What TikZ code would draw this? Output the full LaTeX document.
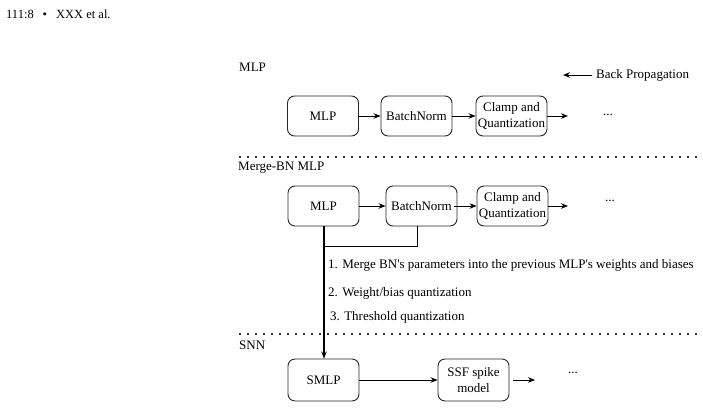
\documentclass[tikz,border=0pt]{standalone}
\usepackage{fontspec}
\setmainfont{Liberation Serif}[Ligatures=TeXOff]
\usetikzlibrary{arrows.meta}
\begin{document}
\begin{tikzpicture}[x=1pt,y=-1pt,
  every node/.style={font=\fontsize{13}{16}\selectfont, inner sep=0pt},
  box/.style={draw=black!85, line width=0.9pt, rounded corners=7pt, minimum width=71pt, align=center},
  rowbox/.style={box, minimum height=40pt},
  lowbox/.style={box, minimum height=42pt},
  conn/.style={line width=0.9pt, -{Stealth[length=7pt,width=5.5pt]}},
  plain/.style={line width=0.9pt},
  sep/.style={line width=1.6pt, dash pattern=on 1.6pt off 6.4pt, black!80},
  lbl/.style={anchor=west}
]
\useasboundingbox (0,0) rectangle (703,407);
% header
\node[lbl, font=\fontsize{12.5}{15}\selectfont] (hdr) at (6,14) {111:8\hspace{9pt}\textbullet\hspace{9pt}XXX et al.};

% section labels
\node[lbl] (lmlp) at (239,67) {MLP};
\node[lbl] (lmerge) at (238,168) {Merge-BN MLP};
\node[lbl] (lsnn) at (239,345) {SNN};

% back propagation legend
\coordinate (bpa) at (592,75);
\coordinate (bpb) at (563,75);
\draw[conn] (bpa) -- (bpb);
\node[lbl] (bp) at (596,75) {Back Propagation};

% row 1
\node[rowbox] (m1) at (323,116) {MLP};
\node[rowbox] (b1) at (416.5,116) {BatchNorm};
\node[rowbox] (c1) at (511.5,116) {Clamp and\\Quantization};
\coordinate (e1) at (568,116);
\node (d1) at (608,115) {...};
\draw[conn] (m1) -- (b1);
\draw[conn] (b1) -- (c1);
\draw[conn] (c1) -- (e1);

% separator 1
\coordinate (s1a) at (239,157);
\coordinate (s1b) at (698,157);
\draw[sep] (s1a) -- (s1b);

% row 2
\node[rowbox] (m2) at (323.5,206) {MLP};
\node[rowbox] (b2) at (421.5,206) {BatchNorm};
\node[rowbox] (c2) at (512.5,206) {Clamp and\\Quantization};
\coordinate (e2) at (568,206);
\node (d2) at (610,201) {...};
\coordinate (b2out) at (454,206);
\draw[conn] (m2) -- (b2);
\draw[conn] (b2out) -- (c2);
\draw[conn] (c2) -- (e2);

% merge lines
\coordinate (j1) at (417,246);
\coordinate (j2) at (324,246);
\draw[plain] (b2.south -| j1) -- (j1) -- (j2);

% steps
\node[lbl] (t1) at (328,265) {1. Merge BN's parameters into the previous MLP's weights and biases};
\node[lbl] (t2) at (328,293) {2. Weight/bias quantization};
\node[lbl] (t3) at (330,317) {3. Threshold quantization};

% separator 2
\coordinate (s2a) at (239,334);
\coordinate (s2b) at (698,334);
\draw[sep] (s2a) -- (s2b);

% row 3
\node[lowbox] (sm) at (323.5,380) {SMLP};
\node[lowbox] (ssf) at (473.5,380) {SSF spike\\model};
\coordinate (e3a) at (513,380);
\coordinate (e3b) at (535,380);
\node (d3) at (573,373) {...};
\draw[conn] (sm) -- (ssf);
\draw[conn] (e3a) -- (e3b);

% main vertical connector
\draw[conn, line width=1.2pt] (m2.south -| j2) -- (sm.north -| j2);
\end{tikzpicture}
\end{document}
